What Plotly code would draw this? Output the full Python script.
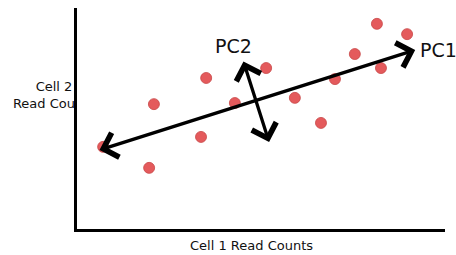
import plotly.graph_objects as go

# --- data (axis units: x 0..10, y 0..6) ---
cell1_counts = [3.51, 2.09, 3.37, 1.96, 0.71, 4.29, 8.15, 8.97, 7.55, 8.26, 5.14, 7.01, 5.92, 6.63]
cell2_counts = [4.10, 3.39, 2.50, 1.66, 2.23, 3.42, 5.57, 5.29, 4.75, 4.37, 4.37, 4.07, 3.56, 2.88]

pc1_start = (0.57, 2.13)
pc1_end = (9.19, 4.86)
pc2_start = (4.51, 4.59)
pc2_end = (5.22, 2.36)

pc1_label = ("PC1", 9.27, 4.86)
pc2_label = ("PC2", 4.24, 4.98)

x_title = "Cell 1 Read Counts"
y_title = "Cell 2<br>Read Counts"

W, H = 456, 255
FONT = "DejaVu Sans"
TXT = "#111111"

fig = go.Figure()

fig.add_trace(go.Scatter(
    x=cell1_counts, y=cell2_counts, mode="markers",
    marker=dict(size=11, color="#e45a5c",
                line=dict(color="#c84646", width=0.8)),
    xaxis="x", yaxis="y", hoverinfo="skip", showlegend=False,
))

# y-axis title placed in a small left subplot so it clips at the axis line
fig.add_trace(go.Scatter(
    x=[54], y=[0.5], mode="text", text=[y_title],
    textposition="middle center",
    textfont=dict(family=FONT, size=13, color=TXT),
    cliponaxis=True, xaxis="x2", yaxis="y2",
    hoverinfo="skip", showlegend=False,
))

x_dom = [77 / W, 445 / W]
y_dom = [(H - 229) / H, (H - 8) / H]

annos = []
for (s, e) in [(pc1_start, pc1_end), (pc2_start, pc2_end)]:
    annos.append(dict(
        x=e[0], y=e[1], ax=s[0], ay=s[1],
        xref="x", yref="y", axref="x", ayref="y",
        text="", showarrow=True, arrowside="end+start",
        arrowhead=4, startarrowhead=4, arrowsize=1.5, startarrowsize=1.5,
        arrowwidth=3.3, arrowcolor="#000000",
    ))

annos.append(dict(x=pc1_label[1], y=pc1_label[2], xref="x", yref="y",
                  text=pc1_label[0], showarrow=False, xanchor="left", yanchor="middle",
                  font=dict(family=FONT, size=19, color=TXT)))
annos.append(dict(x=pc2_label[1], y=pc2_label[2], xref="x", yref="y",
                  text=pc2_label[0], showarrow=False, xanchor="center", yanchor="middle",
                  font=dict(family=FONT, size=19, color=TXT)))
annos.append(dict(x=251.5 / W, y=(H - 245.5) / H, xref="paper", yref="paper",
                  text=x_title, showarrow=False, xanchor="center", yanchor="middle",
                  font=dict(family=FONT, size=13, color=TXT)))

fig.update_layout(
    width=W, height=H,
    margin=dict(l=0, r=0, t=0, b=0),
    paper_bgcolor="white", plot_bgcolor="white",
    xaxis=dict(domain=x_dom, range=[0, 10], showgrid=False, zeroline=False,
               showticklabels=False, ticks="", showline=True,
               linecolor="black", linewidth=2.5, anchor="y", fixedrange=True),
    yaxis=dict(domain=y_dom, range=[0, 6], showgrid=False, zeroline=False,
               showticklabels=False, ticks="", showline=True,
               linecolor="black", linewidth=2.5, anchor="x", fixedrange=True),
    xaxis2=dict(domain=[0, 75.5 / W], range=[0, 75.5], visible=False,
                anchor="y2", fixedrange=True),
    yaxis2=dict(domain=[(H - 117) / H, (H - 75) / H], range=[0, 1], visible=False,
                anchor="x2", fixedrange=True),
    annotations=annos,
    showlegend=False,
)

fig.write_html(
    "out.html",
    config={"displayModeBar": False},
    post_script="document.body.style.margin='0';document.body.style.overflow='hidden';",
)
